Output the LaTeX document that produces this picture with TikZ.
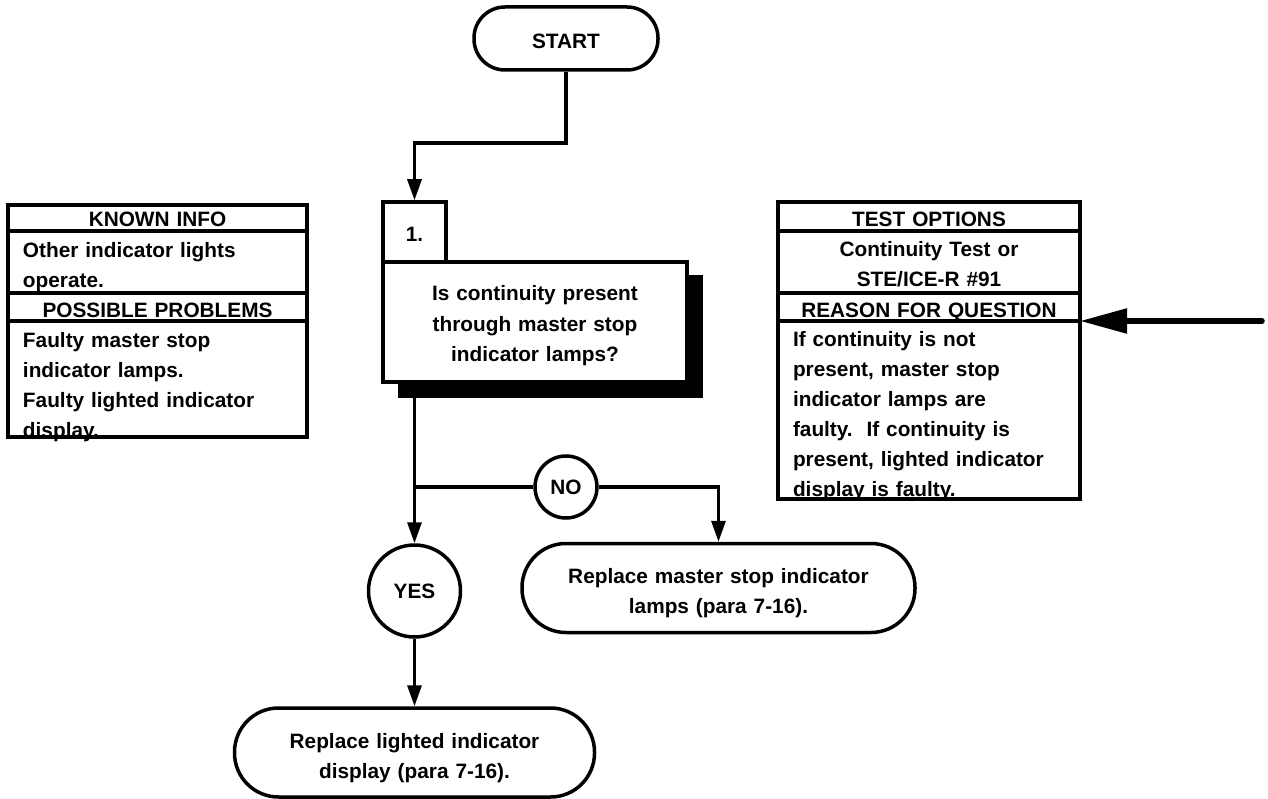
\documentclass[tikz,border=0pt]{standalone}
\usepackage{fontspec}
\setmainfont{Liberation Sans}
\usetikzlibrary{arrows.meta,calc}
\begin{document}
\begin{tikzpicture}[x=1pt,y=-1pt,
  every node/.style={font=\bfseries\fontsize{20.8}{30}\selectfont},
  con/.style={line width=3.2pt},
  arr/.style={-{Triangle[length=21pt,width=14pt]}},
  bigarr/.style={line width=5.5pt,line cap=round,-{Triangle[length=47pt,width=24pt]}},
  box/.style={draw,line width=3.5pt,inner sep=0pt,align=center},
  term/.style={draw,line width=3.5pt,inner sep=0pt,align=center,fill=white},
  circ/.style={draw,circle,line width=3.5pt,inner sep=0pt,fill=white},
  panel/.style={draw,line width=3.5pt,outer sep=0pt,inner xsep=15pt,inner ysep=0pt,text width=269pt,anchor=north west},
  rpanel/.style={panel,text width=272pt}
]
\useasboundingbox (0,0) rectangle (1268,799);

% start
\node[term,minimum width=184pt,minimum height=63pt,rounded corners=31pt,
      text width=184pt,text height=42pt,text depth=21pt] (start) at (566,38.5) {START};

% question box with shadow
\node[fill=black,inner sep=0pt,minimum width=305pt,minimum height=123pt] (shadow) at (550.5,336.5) {};
\node[box,fill=white,minimum width=304pt,minimum height=120pt,text width=304pt,
      text height=39pt,text depth=81pt,font=\bfseries\fontsize{20.8}{30.5}\selectfont] (q) at (535,322)
  {Is continuity present\\through master stop\\indicator lamps?};
\node[box,fill=white,minimum width=63pt,minimum height=60pt,text width=63pt,
      text height=40pt,text depth=20pt] (num) at (414.5,232) {1.};

% outcome nodes
\node[circ,minimum size=62pt] (no) at (566,487) {NO};
\node[circ,minimum size=92pt] (yes) at (414.5,591) {YES};
\node[term,minimum width=393pt,minimum height=89pt,rounded corners=44pt,
      text width=393pt,text height=39.5pt,text depth=49.5pt] (r1) at (718.5,588)
  {Replace master stop indicator\\lamps (para 7-16).};
\node[term,minimum width=360pt,minimum height=89pt,rounded corners=44pt,
      text width=360pt,text height=40pt,text depth=49pt] (r2) at (414.5,752.5)
  {Replace lighted indicator\\display (para 7-16).};

% connectors
\coordinate (bend) at (414.5,143);
\coordinate (j) at (414.5,487);
\draw[con,arr] (start.south) |- (bend) -- (num.north);
\draw[con,arr] (shadow.south -| yes.north) -- (yes.north);
\draw[con] (j) -- (no.west);
\draw[con,arr] (no.east) -| (r1.north);
\draw[con,arr] (yes.south) -- (r2.north);

% left panel
\node[panel,align=center,text height=22pt,text depth=4pt] (kh1) at (8,205) {KNOWN INFO};
\node[panel,align=left,text height=27pt,text depth=35pt] (kb1) at (8,231) {Other indicator lights\\operate.};
\node[panel,align=center,text height=24pt,text depth=4pt] (kh2) at (8,293) {POSSIBLE PROBLEMS};
\node[panel,align=left,text height=26pt,text depth=90pt] (kb2) at (8,321)
  {Faulty master stop\\indicator lamps.\\Faulty lighted indicator\\display.};

% right panel
\node[rpanel,align=center,text height=25pt,text depth=4pt] (th1) at (778,202) {TEST OPTIONS};
\node[rpanel,align=center,text height=26pt,text depth=36pt] (tb1) at (778,231) {Continuity Test or\\STE/ICE-R \#91};
\node[rpanel,align=center,text height=24pt,text depth=4pt] (th2) at (778,293) {REASON FOR QUESTION};
\node[rpanel,align=left,text height=25pt,text depth=153pt] (tb2) at (778,321)
  {If continuity is not\\present, master stop\\indicator lamps are\\faulty.\ \ If continuity is\\present, lighted indicator\\display is faulty.};

% incoming arrow
\coordinate (rin) at (1262,321);
\draw[bigarr] (rin) -- (tb2.north east);
\end{tikzpicture}
\end{document}
